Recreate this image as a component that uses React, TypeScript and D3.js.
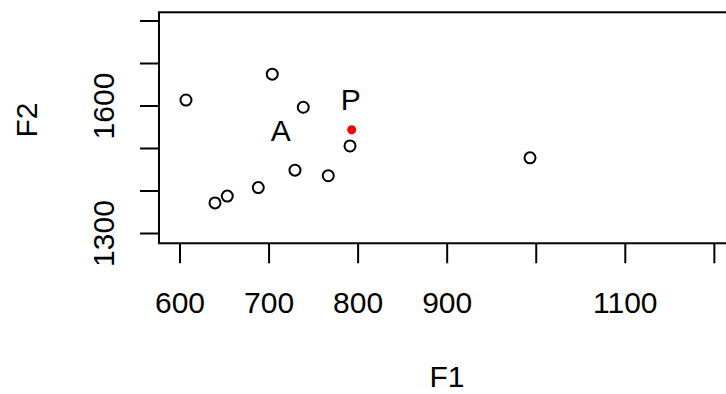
import React, { useRef, useEffect } from "react";
import * as d3 from "d3";

// formant values
const f1Values = [606.7, 703.6, 738.4, 790.9, 729.1, 766.5, 687.9, 653.1, 639.3, 993];
const f2Values = [1614, 1675, 1597, 1506, 1449, 1436, 1408, 1388, 1372, 1478];
const target = { f1: 792.8, f2: 1544 };
const vowelLabels = [
    { text: "A", f1: 713, f2: 1544 },
    { text: "P", f1: 791.8, f2: 1616 },
];
const xTicks = [600, 700, 800, 900, 1000, 1100, 1200];
const xTickLabels = ["600", "700", "800", "900", "", "1100", ""];
const yTicks = [1300, 1400, 1500, 1600, 1700, 1800];
const yTickLabels = ["1300", "", "", "1600", "", ""];

const App: React.FC = () => {
    const svgRef = useRef<SVGSVGElement | null>(null);

    useEffect(() => {
        if (!svgRef.current) return;
        const svg = d3.select(svgRef.current);
        svg.selectAll("*").remove();

        const font = "'Liberation Sans', Arial, sans-serif";
        const x = d3.scaleLinear().domain([600, 1100]).range([180, 625.3]);
        const y = d3.scaleLinear().domain([1300, 1600]).range([233.5, 106]);
        const xDom = [576.4, 1260];
        const yDom = [1277, 1820.5];

        // plot box
        svg.append("rect")
            .attr("x", x(xDom[0]))
            .attr("y", y(yDom[1]))
            .attr("width", x(xDom[1]) - x(xDom[0]))
            .attr("height", y(yDom[0]) - y(yDom[1]))
            .attr("fill", "none")
            .attr("stroke", "#000")
            .attr("stroke-width", 2);

        const bottom = y(yDom[0]);
        const left = x(xDom[0]);

        // x axis
        const xa = svg.append("g");
        xa.selectAll("line")
            .data(xTicks)
            .enter()
            .append("line")
            .attr("x1", (d) => x(d))
            .attr("x2", (d) => x(d))
            .attr("y1", bottom)
            .attr("y2", bottom + 20)
            .attr("stroke", "#000")
            .attr("stroke-width", 2);
        xa.selectAll("text")
            .data(xTicks)
            .enter()
            .append("text")
            .attr("x", (d) => x(d))
            .attr("y", 313)
            .attr("text-anchor", "middle")
            .style("font-family", font)
            .style("font-size", "30px")
            .text((d, i) => xTickLabels[i]);

        // y axis
        const ya = svg.append("g");
        ya.selectAll("line")
            .data(yTicks)
            .enter()
            .append("line")
            .attr("x1", left)
            .attr("x2", left - 19)
            .attr("y1", (d) => y(d))
            .attr("y2", (d) => y(d))
            .attr("stroke", "#000")
            .attr("stroke-width", 2);
        ya.selectAll("text")
            .data(yTicks)
            .enter()
            .append("text")
            .attr("transform", (d) => `translate(114,${y(d)}) rotate(-90)`)
            .attr("text-anchor", "middle")
            .style("font-family", font)
            .style("font-size", "30px")
            .text((d, i) => yTickLabels[i]);

        // axis titles
        svg.append("text")
            .attr("x", 447)
            .attr("y", 387)
            .attr("text-anchor", "middle")
            .style("font-family", font)
            .style("font-size", "30px")
            .text("F1");
        svg.append("text")
            .attr("transform", "translate(37,120) rotate(-90)")
            .attr("text-anchor", "middle")
            .style("font-family", font)
            .style("font-size", "30px")
            .text("F2");

        // points
        svg.selectAll(".pt")
            .data(f1Values)
            .enter()
            .append("circle")
            .attr("class", "pt")
            .attr("cx", (d) => x(d))
            .attr("cy", (d, i) => y(f2Values[i]))
            .attr("r", 5.5)
            .attr("fill", "none")
            .attr("stroke", "#000")
            .attr("stroke-width", 2);

        svg.append("circle")
            .attr("cx", x(target.f1))
            .attr("cy", y(target.f2))
            .attr("r", 4.5)
            .attr("fill", "#ff0000");

        svg.selectAll(".lbl")
            .data(vowelLabels)
            .enter()
            .append("text")
            .attr("class", "lbl")
            .attr("x", (d) => x(d.f1))
            .attr("y", (d) => y(d.f2))
            .attr("dy", "0.36em")
            .attr("text-anchor", "middle")
            .style("font-family", font)
            .style("font-size", "30px")
            .text((d) => d.text);
    }, []);

    return (
        <svg
            ref={svgRef}
            width={726}
            height={394}
            style={{ position: "absolute", left: 0, top: 0, background: "#fff" }}
        ></svg>
    );
};

export default App;
